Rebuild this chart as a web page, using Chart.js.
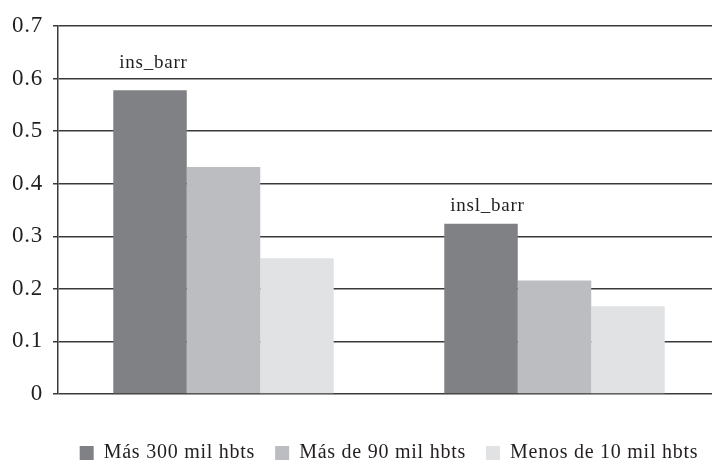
<!DOCTYPE html>
<html>
<head>
<meta charset="utf-8">
<script src="https://cdn.jsdelivr.net/npm/chart.js@4/dist/chart.umd.min.js"></script>
<style>
  html, body { margin: 0; padding: 0; background: #ffffff; overflow: hidden; width: 712px; height: 461px; }
  canvas { display: block; }
</style>
</head>
<body>
<canvas id="c" width="722" height="473"></canvas>
<script>
// ---- data ----
const categories = ['ins_barr', 'insl_barr'];
const seriesNames = ['Más 300 mil hbts', 'Más de 90 mil hbts', 'Menos de 10 mil hbts'];
const mas300 = [0.578, 0.324];
const mas90 = [0.432, 0.216];
const menos10 = [0.258, 0.167];
const yTickLabels = ['0', '0.1', '0.2', '0.3', '0.4', '0.5', '0.6', '0.7'];

// ---- styles ----
const seriesColors = ['#808184', '#bcbdc0', '#e1e2e4'];
const textColor = '#231f20';
const lineColor = '#3a3a3a';
const spacing = '0.75px';

Chart.defaults.font.family = "'Liberation Serif', 'Times New Roman', serif";
Chart.defaults.color = textColor;

const letterSpacingPlugin = {
  id: 'letterSpacing',
  beforeUpdate(chart) { chart.ctx.letterSpacing = spacing; },
  beforeLayout(chart) { chart.ctx.letterSpacing = spacing; },
  beforeDraw(chart) { chart.ctx.letterSpacing = spacing; }
};

const categoryLabelPlugin = {
  id: 'categoryLabels',
  afterDatasetsDraw(chart, args, opts) {
    const ctx = chart.ctx;
    const meta = chart.getDatasetMeta(0);
    ctx.save();
    ctx.letterSpacing = spacing;
    ctx.font = "19px 'Liberation Serif', serif";
    ctx.fillStyle = textColor;
    ctx.textAlign = 'left';
    ctx.textBaseline = 'alphabetic';
    meta.data.forEach((bar, i) => {
      ctx.fillText(categories[i], bar.x - bar.width / 2 + opts.dx, bar.y - opts.dy[i]);
    });
    ctx.restore();
  }
};

const datasetValues = [mas300, mas90, menos10];

new Chart(document.getElementById('c'), {
  type: 'bar',
  data: {
    labels: categories,
    datasets: seriesNames.map((name, k) => ({
      label: name,
      data: datasetValues[k],
      backgroundColor: seriesColors[k],
      borderWidth: 0,
      categoryPercentage: 0.666,
      barPercentage: 1.0
    }))
  },
  options: {
    responsive: false,
    animation: false,
    devicePixelRatio: 1,
    layout: { padding: { top: 26, left: 0, right: 2, bottom: 0 } },
    plugins: {
      tooltip: { enabled: false },
      legend: {
        position: 'bottom',
        fullSize: false,
        labels: {
          font: { size: 20 },
          color: textColor,
          boxWidth: 14,
          boxHeight: 14,
          padding: 20
        }
      },
      categoryLabels: { dx: 6, dy: [22, 13] }
    },
    scales: {
      x: {
        display: true,
        ticks: { display: false },
        grid: { display: false },
        border: { display: false },
        afterFit(scale) { scale.height = 29; }
      },
      y: {
        min: 0,
        max: 0.7,
        ticks: {
          stepSize: 0.1,
          padding: 10,
          color: textColor,
          font: { size: 23 },
          callback: (v, i) => yTickLabels[i]
        },
        grid: {
          color: lineColor,
          lineWidth: 1.5,
          tickLength: 5,
          drawTicks: true
        },
        border: { display: true, color: lineColor, width: 1.5 },
        afterFit(scale) { scale.width = 58; }
      }
    }
  },
  plugins: [letterSpacingPlugin, categoryLabelPlugin]
});
</script>
</body>
</html>
